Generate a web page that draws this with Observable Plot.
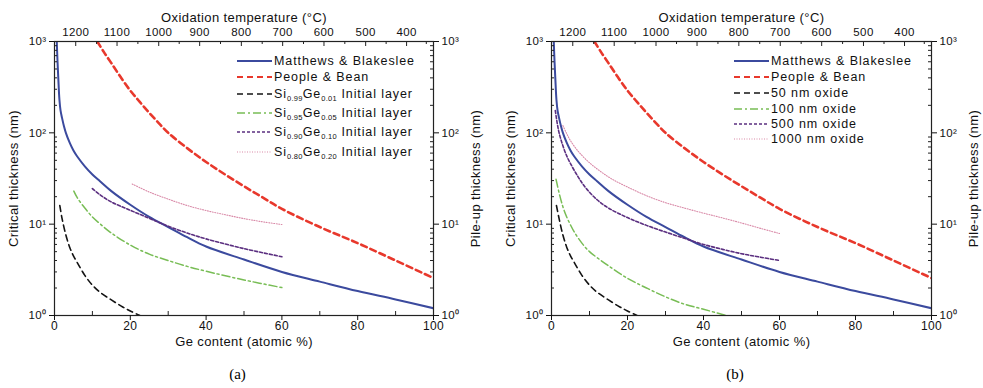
<!DOCTYPE html>
<html><head><meta charset="utf-8">
<script src="https://cdn.jsdelivr.net/npm/d3@7"></script>
<script src="https://cdn.jsdelivr.net/npm/@observablehq/plot@0.6"></script>
<style>
body{margin:0;background:#fff;font-family:"Liberation Sans",Arial,sans-serif;}
#wrap{display:flex;width:983px;}
.panel{position:relative;}
.cap{font-family:"Liberation Serif","Times New Roman",serif;font-size:15px;text-align:center;line-height:20px;margin-top:12px;}
.leg{position:absolute;font-size:12.5px;letter-spacing:0.9px;color:#111;white-space:nowrap;display:flex;align-items:center;height:16px;}
.leg svg{margin-right:2px;}
.leg sub{font-size:7.5px;vertical-align:-3px;line-height:0;letter-spacing:0.3px;}
</style></head><body><div id="wrap"></div>
<script>
// ---- axis tick data ----
const geTicks = [0, 20, 40, 60, 80, 100];
const geMinor = [10, 30, 50, 70, 90];
const yMajor = [1, 10, 100, 1000];
const yMinor = [2,3,4,5,6,7,8,9,20,30,40,50,60,70,80,90,200,300,400,500,600,700,800,900];
const tempLabels = [1200, 1100, 1000, 900, 800, 700, 600, 500, 400];
const tempPos = [5.6, 16.5, 27.5, 38.3, 49.3, 60.2, 71.1, 82.1, 92.9];
const tempMinorPos = [11.1, 22.0, 32.9, 43.8, 54.8, 65.7, 76.6, 87.5, 98.1];

// ---- shared curves ----
const mbGe = [0.6, 0.8, 1, 1.3, 1.6, 2, 2.5, 3, 4, 5, 6, 8, 10, 12, 15, 20, 25, 30, 35, 40, 50, 60, 70, 80, 90, 100];
const mbVal = [1000, 600, 400, 230, 175, 145, 118, 100, 78, 64, 55, 43, 35, 29.5, 23, 16.3, 12, 9.3, 7.2, 5.7, 4.1, 3.0, 2.35, 1.85, 1.5, 1.2];
const pbGe = [11.3, 13, 15, 17.5, 20, 22.5, 25, 27.5, 30, 35, 40, 45, 50, 55, 60, 70, 80, 90, 100];
const pbVal = [1000, 770, 580, 405, 290, 218, 166, 128, 100, 68, 48, 35, 26, 19.5, 14.7, 9.3, 6.2, 4.0, 2.57];

// ---- panel (a): initial layer compositions ----
const a01Ge = [1.4, 2, 3, 4, 5, 6, 8, 10, 12, 15, 18, 20, 22.5];
const a01Val = [16, 11.5, 7.6, 5.6, 4.5, 3.8, 2.75, 2.15, 1.8, 1.48, 1.24, 1.12, 1.0];
const a05Ge = [5.1, 6, 8, 10, 12, 15, 20, 25, 30, 35, 40, 50, 60];
const a05Val = [23, 19.5, 15, 12, 10.1, 8.0, 5.9, 4.7, 4.0, 3.45, 3.05, 2.45, 2.02];
const a10Ge = [10, 12, 15, 20, 25, 30, 35, 40, 50, 60];
const a10Val = [24.5, 21, 17.5, 14.2, 11.6, 9.5, 8.0, 6.9, 5.4, 4.4];
const a20Ge = [20.5, 25, 30, 35, 40, 45, 50, 55, 60];
const a20Val = [27.5, 22.5, 18.8, 16.0, 14.1, 12.7, 11.5, 10.6, 9.9];

// ---- panel (b): oxide thickness ----
const b50Ge = [1.3, 2, 3, 4, 5, 6, 8, 10, 12, 15, 18, 20, 22.5];
const b50Val = [16, 11.5, 7.6, 5.6, 4.5, 3.8, 2.75, 2.15, 1.8, 1.48, 1.24, 1.12, 1.0];
const b100Ge = [1.2, 2, 3, 4, 5, 6, 8, 10, 12, 15, 20, 25, 30, 35, 40, 46];
const b100Val = [31, 22, 15.5, 12, 9.8, 8.2, 6.2, 5.0, 4.3, 3.5, 2.55, 2.0, 1.6, 1.33, 1.17, 1.0];
const b500Ge = [1.0, 1.5, 2, 3, 4, 5, 7, 9, 12, 15, 20, 25, 30, 35, 40, 45, 50, 55, 60];
const b500Val = [175, 128, 100, 72, 56, 46, 33, 25, 18.5, 15, 11.8, 9.7, 8.2, 7.0, 6.0, 5.3, 4.75, 4.35, 4.0];
const b1000Ge = [3, 4, 5, 7, 10, 13, 16, 20, 25, 30, 35, 40, 45, 50, 55, 60];
const b1000Val = [120, 98, 82, 63, 47, 37.5, 31, 25.5, 20.5, 17.2, 15.0, 13.2, 11.7, 10.3, 9.0, 7.9];

const sup = {0:"\u2070",1:"\u00b9",2:"\u00b2",3:"\u00b3"};
const fmtPow = d => "10" + sup[Math.round(Math.log10(d))];
const tempMap = new Map(tempPos.map((p, i) => [p, String(tempLabels[i])]));

const styles = {
  mb:   {stroke:"#3b4a9e", strokeWidth:2, dash:null},
  pb:   {stroke:"#e8382c", strokeWidth:2.6, dash:"6,4"},
  k:    {stroke:"#141414", strokeWidth:1.6, dash:"6,4"},
  g:    {stroke:"#78bd55", strokeWidth:1.5, dash:"8,3,2,3"},
  p:    {stroke:"#5b2f80", strokeWidth:1.6, dash:"3,2"},
  pk:   {stroke:"#d98aa8", strokeWidth:1.1, dash:"1,1.5"}
};

const H = 352, MT = 41, MB = 37;

function makePanel(cfg) {
  const plotH = H - MT - MB, plotW = cfg.width - cfg.ml - cfg.mr;
  const marks = [];
  cfg.series.forEach(s => {
    const data = s.x.map((x, i) => ({x, y: s.y[i]}));
    const st = styles[s.style];
    marks.push(Plot.line(data, {x:"x", y:"y", stroke:st.stroke, strokeWidth:st.strokeWidth,
      strokeDasharray:st.dash, curve:"catmull-rom", clip:true}));
  });
  marks.push(Plot.frame({stroke:"#222", strokeWidth:1.2}));
  // bottom axis
  marks.push(Plot.axisX({anchor:"bottom", ticks:geTicks, tickSize:5, tickPadding:1, fontSize:12, letterSpacing:"0.8px", label:null}));
  marks.push(Plot.tickX(geMinor, {x:d => d, insetTop:plotH - 4, stroke:"#222"}));
  // top axis
  marks.push(Plot.axisX({anchor:"top", ticks:tempPos, tickSize:0, tickPadding:6, tickFormat:d => tempMap.get(d), fontSize:11.5, label:null}));
  marks.push(Plot.tickX(tempPos, {x:d => d, insetBottom:plotH - 5, stroke:"#222"}));
  marks.push(Plot.tickX(tempMinorPos, {x:d => d, insetBottom:plotH - 3, stroke:"#222"}));
  // left / right axes
  marks.push(Plot.axisY({anchor:"left", ticks:yMajor, tickSize:5, tickPadding:3, tickFormat:fmtPow, fontSize:11.5, label:null}));
  marks.push(Plot.tickY(yMinor, {y:d => d, insetRight:plotW - 3, stroke:"#222"}));
  marks.push(Plot.axisY({anchor:"right", ticks:yMajor, tickSize:5, tickPadding:3, tickFormat:fmtPow, fontSize:11.5, label:null}));
  marks.push(Plot.tickY(yMinor, {y:d => d, insetLeft:plotW - 3, stroke:"#222"}));
  // titles
  marks.push(Plot.text(["Critical thickness (nm)"], {frameAnchor:"left", rotate:-90, dx:-41, textAnchor:"middle", fontSize:13}));
  marks.push(Plot.text(["Pile-up thickness (nm)"], {frameAnchor:"right", rotate:-90, dx:42, textAnchor:"middle", fontSize:13}));
  marks.push(Plot.text(["Oxidation temperature (\u00b0C)"], {frameAnchor:"top", dy:-29, textAnchor:"middle", fontSize:13, letterSpacing:"1.2px"}));
  marks.push(Plot.text(["Ge content (atomic %)"], {frameAnchor:"bottom", dy:30, textAnchor:"middle", fontSize:13, letterSpacing:"0.9px"}));

  const svg = Plot.plot({
    width: cfg.width, height: H,
    marginLeft: cfg.ml, marginRight: cfg.mr, marginTop: MT, marginBottom: MB,
    x: {domain:[0,100]},
    y: {type:"log", domain:[1,1000]},
    style: {fontFamily:"'Liberation Sans', Arial, sans-serif", fontSize:"12px", color:"#111", background:"#fff", letterSpacing:"0.4px"},
    marks
  });
  const div = document.createElement("div");
  div.className = "panel";
  div.style.width = cfg.width + "px";
  div.appendChild(svg);
  cfg.legend.forEach((item, i) => {
    const st = styles[item.style];
    const row = document.createElement("div");
    row.className = "leg";
    row.style.left = cfg.legX + "px";
    row.style.top = (cfg.legY[i] - 8) + "px";
    row.innerHTML = `<svg width="35" height="6"><line x1="0" y1="3" x2="35" y2="3" stroke="${st.stroke}" stroke-width="${Math.min(st.strokeWidth,2)}" ${st.dash ? `stroke-dasharray="${st.dash}"` : ""}/></svg><span>${item.label}</span>`;
    div.appendChild(row);
  });
  const cap = document.createElement("div");
  cap.className = "cap";
  cap.style.marginLeft = (cfg.ml - 6) + "px";
  cap.style.width = (cfg.width - cfg.ml - cfg.mr) + "px";
  cap.textContent = cfg.caption;
  div.appendChild(cap);
  return div;
}

const sub = (a, b, g) => `Si<sub>${a}</sub>Ge<sub>${b}</sub> ${g}`;
const legendA = [
  {style:"mb", label:"Matthews &amp; Blakeslee"},
  {style:"pb", label:"People &amp; Bean"},
  {style:"k", label:sub("0.99", "0.01", "Initial layer")},
  {style:"g", label:sub("0.95", "0.05", "Initial layer")},
  {style:"p", label:sub("0.90", "0.10", "Initial layer")},
  {style:"pk", label:sub("0.80", "0.20", "Initial layer")}
];
const legendB = [
  {style:"mb", label:"Matthews &amp; Blakeslee"},
  {style:"pb", label:"People &amp; Bean"},
  {style:"k", label:"50 nm oxide"},
  {style:"g", label:"100 nm oxide"},
  {style:"p", label:"500 nm oxide"},
  {style:"pk", label:"1000 nm oxide"}
];

const wrap = document.getElementById("wrap");
wrap.appendChild(makePanel({
  width:491, ml:54, mr:58, caption:"(a)", legX:237, legY:[61,77,94,113,132,152], legend:legendA,
  series:[
    {style:"mb", x:mbGe, y:mbVal}, {style:"pb", x:pbGe, y:pbVal},
    {style:"k", x:a01Ge, y:a01Val}, {style:"g", x:a05Ge, y:a05Val},
    {style:"p", x:a10Ge, y:a10Val}, {style:"pk", x:a20Ge, y:a20Val}
  ]
}));
wrap.appendChild(makePanel({
  width:492, ml:60, mr:52, caption:"(b)", legX:243, legY:[61,77,93,109,124,139], legend:legendB,
  series:[
    {style:"mb", x:mbGe, y:mbVal}, {style:"pb", x:pbGe, y:pbVal},
    {style:"k", x:b50Ge, y:b50Val}, {style:"g", x:b100Ge, y:b100Val},
    {style:"p", x:b500Ge, y:b500Val}, {style:"pk", x:b1000Ge, y:b1000Val}
  ]
}));
</script></body></html>
